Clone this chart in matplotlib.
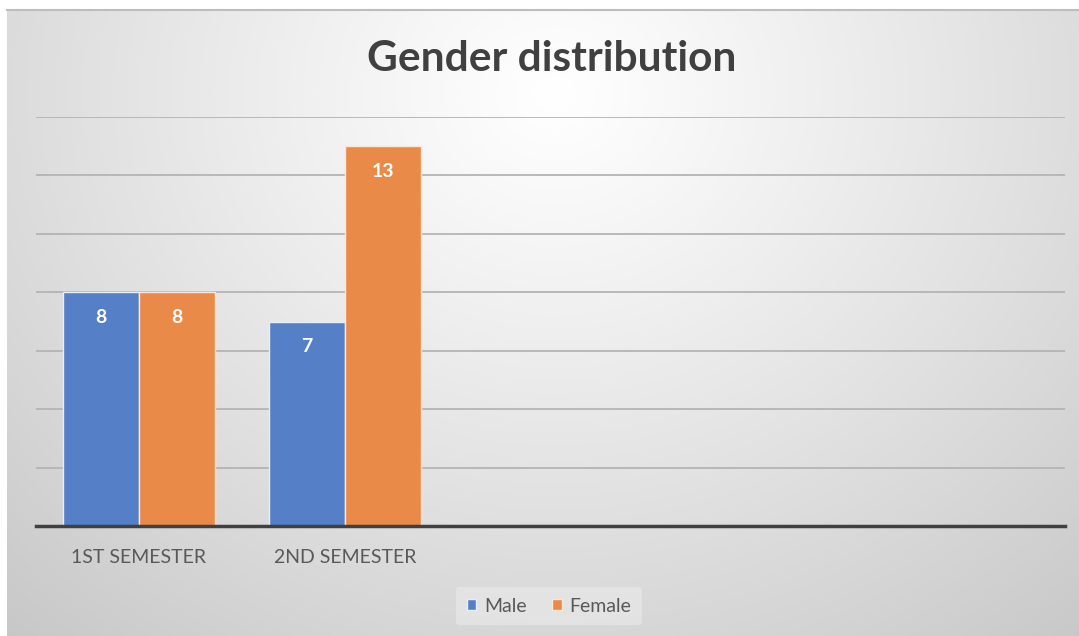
import numpy as np
import matplotlib.pyplot as plt

categories = ["1ST SEMESTER", "2ND SEMESTER", "", "", ""]
male = [8, 7, 0, 0, 0]
female = [8, 13, 0, 0, 0]
n_filled = 2

plt.rcParams["font.family"] = ["Lato", "DejaVu Sans"]

W, H = 1079, 636
fig = plt.figure(figsize=(W / 100, H / 100), dpi=100)

# gradient background of the chart area
bg = fig.add_axes([7 / W, 0, (W - 7) / W, (H - 9) / H])
yy, xx = np.mgrid[0:300, 0:500]
cx, cy = 255, 40
d = np.sqrt(((xx - cx) / 420.0) ** 2 + ((yy - cy) / 380.0) ** 2)
shade = 1.0 - 0.24 * np.clip(d, 0, 1.2) ** 1.1
shade = np.clip(shade, 0, 1)
bg.imshow(np.dstack([shade] * 3), aspect="auto", extent=[0, 1, 0, 1], origin="upper")
bg.set_axis_off()
fig.add_artist(plt.Line2D([7 / W, 1], [(H - 9.5) / H] * 2, color="#bdbdbd", lw=1.5))

ax = fig.add_axes([36 / W, (H - 526) / H, (1065 - 36) / W, (526 - 117) / H])
ax.patch.set_alpha(0)

x = np.arange(len(categories))
bw = 0.37
b1 = ax.bar(x[:n_filled] - bw / 2, male[:n_filled], bw, color="#5580c8",
            edgecolor="#e8eef8", linewidth=1.0, label="Male", zorder=3)
b2 = ax.bar(x[:n_filled] + bw / 2, female[:n_filled], bw, color="#ea8a48",
            edgecolor="#f8e8dc", linewidth=1.0, label="Female", zorder=3)

for bars in (b1, b2):
    for r in bars:
        ax.annotate(f"{int(r.get_height())}", (r.get_x() + r.get_width() / 2, r.get_height()),
                    xytext=(0, -25), textcoords="offset pixels",
                    ha="center", va="center", color="white", fontsize=14,
                    fontweight="bold", zorder=4)

ax.set_xlim(-0.5, len(categories) - 0.5)
ax.set_ylim(0, 14)
ax.set_yticks(np.arange(2, 15, 2))
ax.yaxis.grid(True, color="#b4b4b4", lw=1.3, zorder=0)
ax.tick_params(axis="y", left=False, labelleft=False)
ax.tick_params(axis="x", bottom=False, pad=13, labelsize=14, labelcolor="#595959")
ax.set_xticks(x)
ax.set_xticklabels(categories)
for s in ["top", "right", "left"]:
    ax.spines[s].set_visible(False)
ax.spines["bottom"].set_color("#404040")
ax.spines["bottom"].set_linewidth(2.5)
ax.spines["bottom"].set_zorder(5)

fig.text(552 / W, (H - 59) / H, "Gender distribution", ha="center", va="center",
         fontsize=30.5, fontweight="bold", color="#404040")

leg = fig.legend(handles=[b1, b2], loc="center", bbox_to_anchor=(549 / W, (H - 606) / H),
                 ncol=2, frameon=True, fontsize=14, handlelength=0.5, handleheight=0.5,
                 handletextpad=0.4, columnspacing=1.3, borderpad=0.55)
leg.get_frame().set_facecolor("#e6e6e6")
leg.get_frame().set_edgecolor("none")
leg.get_frame().set_alpha(0.8)
for t in leg.get_texts():
    t.set_color("#595959")

fig.savefig("out.png", dpi=100)
